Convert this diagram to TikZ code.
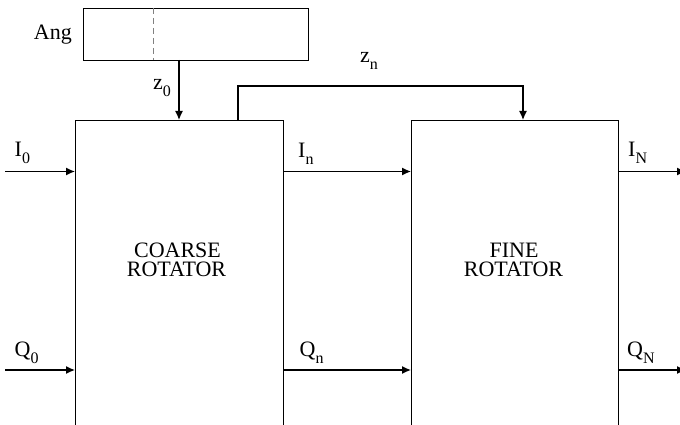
\documentclass[tikz,border=0pt]{standalone}
\usepackage{fontspec}
\setmainfont{Liberation Serif}
\usetikzlibrary{arrows.meta}
\newcommand{\sbx}[2]{#1\raisebox{-7pt}{\fontsize{16}{16}\selectfont #2}}
\begin{document}
\begin{tikzpicture}[x=1pt,y=-1pt,
  box/.style={draw,line width=1.3pt,inner sep=0pt,anchor=north west},
  wire/.style={line width=1.3pt},
  arr/.style={wire,-{Latex[length=9pt,width=8pt]}},
  lbl/.style={font=\fontsize{22}{24}\selectfont,inner sep=0pt,anchor=base west},
  ttl/.style={font=\fontsize{22}{24}\selectfont,inner sep=0pt,anchor=base}]
\useasboundingbox (0,0) rectangle (680,425);
\clip (0,0) rectangle (680,425);
% Ang register
\node[box,minimum width=225pt,minimum height=52pt] (ang) at (83,8) {};
\draw[gray,line width=0.9pt,dash pattern=on 6pt off 4pt] (153,8) -- (153,60);
\node[lbl,anchor=base east] (angl) at (72,40) {Ang};
% rotators
\node[box,minimum width=208pt,minimum height=330pt] (coarse) at (75,120) {};
\node[box,minimum width=207pt,minimum height=330pt] (fine) at (411,120) {};
\node[ttl] (coarset1) at (177.5,257) {COARSE};
\node[ttl] (coarset2) at (176.5,276.5) {ROTATOR};
\node[ttl] (finet1) at (514,257) {FINE};
\node[ttl] (finet2) at (513.5,276.5) {ROTATOR};
% z0
\coordinate (z0s) at (179,60);
\draw[arr] (z0s) -- (z0s |- coarse.north);
\node[lbl] (z0l) at (153,90) {\sbx{z}{0}};
% zn
\coordinate (zns) at (238,120);
\coordinate (zne) at (523,120);
\draw[arr] (zns) -- (238,86) -- (523,86) -- (zne);
\node[lbl] (znl) at (360,63) {\sbx{z}{n}};
% I path
\coordinate (i0) at (5,171.5);
\draw[arr] (i0) -- (i0 -| coarse.west);
\draw[arr] (i0 -| coarse.east) -- (i0 -| fine.west);
\coordinate (iN) at (686,171.5);
\draw[arr] (i0 -| fine.east) -- (iN);
% Q path
\coordinate (q0) at (5,370);
\draw[arr] (q0) -- (q0 -| coarse.west);
\draw[arr] (q0 -| coarse.east) -- (q0 -| fine.west);
\coordinate (qN) at (686,370);
\draw[arr] (q0 -| fine.east) -- (qN);
% labels
\node[lbl] (i0l) at (14.5,157) {\sbx{I}{0}};
\node[lbl] (q0l) at (14.5,356) {\sbx{Q}{0}};
\node[lbl] (inl) at (298,157.5) {\sbx{I}{n}};
\node[lbl] (qnl) at (299.5,356) {\sbx{Q}{n}};
\node[lbl] (iNl) at (628,157) {\sbx{I}{N}};
\node[lbl] (qNl) at (627,356) {\sbx{Q}{N}};
\end{tikzpicture}
\end{document}
